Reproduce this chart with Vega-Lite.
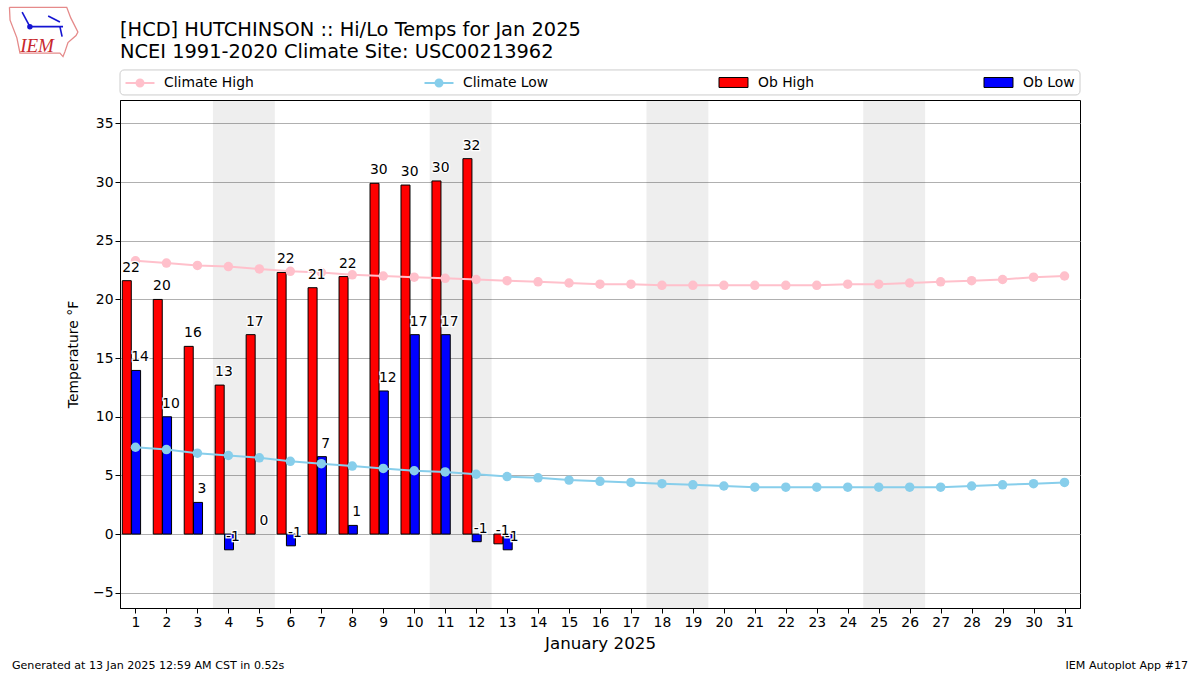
{"$schema":"https://vega.github.io/schema/vega-lite/v6.json","width":960,"height":508,"autosize":{"type":"none"},"padding":{"left":120,"top":100,"right":120,"bottom":67},"background":"white",
"title":{"text":["[HCD] HUTCHINSON :: Hi/Lo Temps for Jan 2025","NCEI 1991-2020 Climate Site: USC00213962"],"anchor":"start","frame":"group","font":"DejaVu Sans","fontSize":19.4,"fontWeight":"normal","color":"black","lineHeight":22,"offset":0,"dy":58},
"config":{"view":{"stroke":"black","strokeWidth":1},"font":"DejaVu Sans"},
"datasets":{
"weekends":[{"start":3.5,"end":5.5},{"start":10.5,"end":12.5},{"start":17.5,"end":19.5},{"start":24.5,"end":26.5}],
"legendbox":[{"x1":0.5,"x2":31.5,"y1":37.43,"y2":39.56}],
"obs":[
{"day":1,"series":"Ob High","value":21.6,"label":"22"},{"day":2,"series":"Ob High","value":20,"label":"20"},{"day":3,"series":"Ob High","value":16,"label":"16"},{"day":4,"series":"Ob High","value":12.7,"label":"13"},{"day":5,"series":"Ob High","value":17,"label":"17"},{"day":6,"series":"Ob High","value":22.3,"label":"22"},{"day":7,"series":"Ob High","value":21,"label":"21"},{"day":8,"series":"Ob High","value":21.95,"label":"22"},{"day":9,"series":"Ob High","value":29.9,"label":"30"},{"day":10,"series":"Ob High","value":29.75,"label":"30"},{"day":11,"series":"Ob High","value":30.1,"label":"30"},{"day":12,"series":"Ob High","value":32,"label":"32"},{"day":13,"series":"Ob High","value":-0.83,"label":"-1"},
{"day":1,"series":"Ob Low","value":13.95,"label":"14"},{"day":2,"series":"Ob Low","value":10,"label":"10"},{"day":3,"series":"Ob Low","value":2.7,"label":"3"},{"day":4,"series":"Ob Low","value":-1.34,"label":"-1"},{"day":5,"series":"Ob Low","value":0,"label":"0"},{"day":6,"series":"Ob Low","value":-1,"label":"-1"},{"day":7,"series":"Ob Low","value":6.6,"label":"7"},{"day":8,"series":"Ob Low","value":0.74,"label":"1"},{"day":9,"series":"Ob Low","value":12.2,"label":"12"},{"day":10,"series":"Ob Low","value":17,"label":"17"},{"day":11,"series":"Ob Low","value":17,"label":"17"},{"day":12,"series":"Ob Low","value":-0.65,"label":"-1"},{"day":13,"series":"Ob Low","value":-1.34,"label":"-1"}],
"climate":[
{"day":1,"series":"Climate High","value":23.3},{"day":2,"series":"Climate High","value":23.1},{"day":3,"series":"Climate High","value":22.9},{"day":4,"series":"Climate High","value":22.8},{"day":5,"series":"Climate High","value":22.6},{"day":6,"series":"Climate High","value":22.4},{"day":7,"series":"Climate High","value":22.3},{"day":8,"series":"Climate High","value":22.1},{"day":9,"series":"Climate High","value":22},{"day":10,"series":"Climate High","value":21.9},{"day":11,"series":"Climate High","value":21.8},{"day":12,"series":"Climate High","value":21.7},{"day":13,"series":"Climate High","value":21.6},{"day":14,"series":"Climate High","value":21.5},{"day":15,"series":"Climate High","value":21.4},{"day":16,"series":"Climate High","value":21.3},{"day":17,"series":"Climate High","value":21.3},{"day":18,"series":"Climate High","value":21.2},{"day":19,"series":"Climate High","value":21.2},{"day":20,"series":"Climate High","value":21.2},{"day":21,"series":"Climate High","value":21.2},{"day":22,"series":"Climate High","value":21.2},{"day":23,"series":"Climate High","value":21.2},{"day":24,"series":"Climate High","value":21.3},{"day":25,"series":"Climate High","value":21.3},{"day":26,"series":"Climate High","value":21.4},{"day":27,"series":"Climate High","value":21.5},{"day":28,"series":"Climate High","value":21.6},{"day":29,"series":"Climate High","value":21.7},{"day":30,"series":"Climate High","value":21.9},{"day":31,"series":"Climate High","value":22},
{"day":1,"series":"Climate Low","value":7.4},{"day":2,"series":"Climate Low","value":7.2},{"day":3,"series":"Climate Low","value":6.9},{"day":4,"series":"Climate Low","value":6.7},{"day":5,"series":"Climate Low","value":6.5},{"day":6,"series":"Climate Low","value":6.2},{"day":7,"series":"Climate Low","value":6},{"day":8,"series":"Climate Low","value":5.8},{"day":9,"series":"Climate Low","value":5.6},{"day":10,"series":"Climate Low","value":5.4},{"day":11,"series":"Climate Low","value":5.3},{"day":12,"series":"Climate Low","value":5.1},{"day":13,"series":"Climate Low","value":4.9},{"day":14,"series":"Climate Low","value":4.8},{"day":15,"series":"Climate Low","value":4.6},{"day":16,"series":"Climate Low","value":4.5},{"day":17,"series":"Climate Low","value":4.4},{"day":18,"series":"Climate Low","value":4.3},{"day":19,"series":"Climate Low","value":4.2},{"day":20,"series":"Climate Low","value":4.1},{"day":21,"series":"Climate Low","value":4},{"day":22,"series":"Climate Low","value":4},{"day":23,"series":"Climate Low","value":4},{"day":24,"series":"Climate Low","value":4},{"day":25,"series":"Climate Low","value":4},{"day":26,"series":"Climate Low","value":4},{"day":27,"series":"Climate Low","value":4},{"day":28,"series":"Climate Low","value":4.1},{"day":29,"series":"Climate Low","value":4.2},{"day":30,"series":"Climate Low","value":4.3},{"day":31,"series":"Climate Low","value":4.4}],
"logo":[
{"part":"outline","order":1,"x":-3.07,"y":44.9},{"part":"outline","order":2,"x":-1.22,"y":44.9},{"part":"outline","order":3,"x":-1.09,"y":44},{"part":"outline","order":4,"x":-0.86,"y":42.8},{"part":"outline","order":5,"x":-0.92,"y":42.5},{"part":"outline","order":6,"x":-1.18,"y":41.9},{"part":"outline","order":7,"x":-1.28,"y":41.1},{"part":"outline","order":8,"x":-1.34,"y":40.7},{"part":"outline","order":9,"x":-1.44,"y":41},{"part":"outline","order":10,"x":-2.73,"y":41},{"part":"outline","order":11,"x":-2.83,"y":42.3},{"part":"outline","order":12,"x":-3.05,"y":43.8},{"part":"outline","order":13,"x":-3.07,"y":44.9}],
"glyph":[
{"part":"main","order":1,"x":-2.41,"y":43.25},{"part":"main","order":2,"x":-1.34,"y":43.25},{"part":"barb","order":1,"x":-2.41,"y":43.25},{"part":"barb","order":2,"x":-2.66,"y":44.5},{"part":"flag","order":1,"x":-1.82,"y":44.16},{"part":"flag","order":2,"x":-1.44,"y":43.65},{"part":"stem","order":1,"x":-1.44,"y":43.25},{"part":"stem","order":2,"x":-1.37,"y":42.4}],
"dot":[{"x":-2.41,"y":43.25}],
"logotext":[{"x":-2.18,"y":41.6,"text":"IEM"}],
"notes":[{"x":-2.99,"y":-11.25,"text":"Generated at 13 Jan 2025 12:59 AM CST in 0.52s","side":"left"},{"x":34.99,"y":-11.25,"text":"IEM Autoplot App #17","side":"right"}]
},
"layer":[
{"data":{"name":"weekends"},"mark":{"type":"rect","fill":"black","opacity":0.067},
"encoding":{"x":{"field":"start","type":"quantitative","scale":{"domain":[0.5,31.5],"nice":false,"zero":false,"padding":0},
"axis":{"values":[1,2,3,4,5,6,7,8,9,10,11,12,13,14,15,16,17,18,19,20,21,22,23,24,25,26,27,28,29,30,31],"tickCount":31,"format":"d","grid":false,"labelFontSize":13.9,"labelFont":"DejaVu Sans","labelColor":"black","labelOverlap":false,"labelFlush":false,"tickColor":"black","tickSize":5,"domainColor":"black","title":"January 2025","titleFontSize":16.7,"titleFontWeight":"normal","titleFont":"DejaVu Sans","titleColor":"black","titlePadding":7}},"x2":{"field":"end"},
"y":{"datum":-6.3,"type":"quantitative","scale":{"domain":[-6.3,37],"nice":false,"zero":false},"axis":{"values":[-5,0,5,10,15,20,25,30,35],"grid":true,"gridColor":"#b0b0b0","gridWidth":1,"labelFontSize":13.9,"labelFont":"DejaVu Sans","labelColor":"black","tickColor":"black","tickSize":5,"domainColor":"black","title":"Temperature °F","titleFontSize":13.9,"titleFontWeight":"normal","titleFont":"DejaVu Sans","titleColor":"black","titlePadding":12}},"y2":{"datum":37}}},
{"data":{"name":"legendbox"},"mark":{"type":"rect","fill":"transparent","stroke":"#cccccc","strokeWidth":1,"cornerRadius":4,"clip":false},
"encoding":{"x":{"field":"x1","type":"quantitative"},"x2":{"field":"x2"},"y":{"field":"y1","type":"quantitative"},"y2":{"field":"y2"}}},
{"data":{"name":"obs"},"transform":[{"filter":"datum.series === 'Ob High'"}],"mark":{"type":"bar","width":9,"xOffset":-8.7,"stroke":"black","strokeWidth":1},
"encoding":{"x":{"field":"day","type":"quantitative"},"y":{"field":"value","type":"quantitative","stack":null},
"color":{"field":"series","type":"nominal","scale":{"domain":["Ob High","Ob Low"],"range":["#ff0000","#0000ff"]},
"legend":{"orient":"none","legendX":599,"legendY":-25,"title":null,"columns":2,"gridAlign":"none","columnPadding":167,"padding":0,"symbolSize":196,"symbolStrokeWidth":1,"symbolStrokeColor":"black","symbolType":"M-1.07,-0.71H3.07V0.71H-1.07Z","labelOffset":24,"labelFontSize":13.9,"labelFont":"DejaVu Sans","labelColor":"black","labelLimit":300,
"encoding":{"symbols":{"stroke":{"value":"black"},"strokeWidth":{"value":1},"opacity":{"value":1}}}}}}},
{"data":{"name":"obs"},"transform":[{"filter":"datum.series === 'Ob Low' && datum.value !== 0"}],"mark":{"type":"bar","width":9,"xOffset":0.6,"stroke":"black","strokeWidth":1},
"encoding":{"x":{"field":"day","type":"quantitative"},"y":{"field":"value","type":"quantitative","stack":null},"color":{"field":"series","type":"nominal","legend":null}}},
{"data":{"name":"climate"},"mark":{"type":"line","strokeWidth":2},
"encoding":{"x":{"field":"day","type":"quantitative"},"y":{"field":"value","type":"quantitative"},
"stroke":{"field":"series","type":"nominal","scale":{"domain":["Climate High","Climate Low"],"range":["#ffc0cb","#87ceeb"]},
"legend":{"orient":"none","legendX":5,"legendY":-25,"title":null,"columns":2,"gridAlign":"none","columnPadding":166,"padding":0,"symbolSize":196,"symbolStrokeWidth":2,"symbolType":"M-1.07,0H3.07M0.5,0a0.5,0.5 0 1,0 1,0a0.5,0.5 0 1,0 -1,0M0.786,0a0.214,0.214 0 1,0 0.428,0a0.214,0.214 0 1,0 -0.428,0M0.93,0a0.07,0.07 0 1,0 0.14,0a0.07,0.07 0 1,0 -0.14,0","labelOffset":23,"labelFontSize":13.9,"labelFont":"DejaVu Sans","labelColor":"black","labelLimit":300}}}},
{"data":{"name":"climate"},"mark":{"type":"point","filled":true,"size":90,"opacity":1},
"encoding":{"x":{"field":"day","type":"quantitative"},"y":{"field":"value","type":"quantitative"},
"fill":{"field":"series","type":"nominal","scale":{"domain":["Climate High","Climate Low"],"range":["#ffc0cb","#87ceeb"]},"legend":null}}},
{"data":{"name":"obs"},"transform":[{"filter":"datum.series === 'Ob High'"}],"mark":{"type":"text","dx":-4.5,"dy":-13,"fontSize":13.9,"font":"DejaVu Sans","stroke":"white","strokeWidth":2.5,"fill":"white"},
"encoding":{"x":{"field":"day","type":"quantitative"},"y":{"field":"value","type":"quantitative"},"text":{"field":"label"}}},
{"data":{"name":"obs"},"transform":[{"filter":"datum.series === 'Ob Low'"}],"mark":{"type":"text","dx":4.5,"dy":-13,"fontSize":13.9,"font":"DejaVu Sans","stroke":"white","strokeWidth":2.5,"fill":"white"},
"encoding":{"x":{"field":"day","type":"quantitative"},"y":{"field":"value","type":"quantitative"},"text":{"field":"label"}}},
{"data":{"name":"obs"},"transform":[{"filter":"datum.series === 'Ob High'"}],"mark":{"type":"text","dx":-4.5,"dy":-13,"fontSize":13.9,"font":"DejaVu Sans","fill":"black"},
"encoding":{"x":{"field":"day","type":"quantitative"},"y":{"field":"value","type":"quantitative"},"text":{"field":"label"}}},
{"data":{"name":"obs"},"transform":[{"filter":"datum.series === 'Ob Low'"}],"mark":{"type":"text","dx":4.5,"dy":-13,"fontSize":13.9,"font":"DejaVu Sans","fill":"black"},
"encoding":{"x":{"field":"day","type":"quantitative"},"y":{"field":"value","type":"quantitative"},"text":{"field":"label"}}},
{"data":{"name":"logo"},"mark":{"type":"line","stroke":"#e58a8a","strokeWidth":1.3,"clip":false},
"encoding":{"x":{"field":"x","type":"quantitative"},"y":{"field":"y","type":"quantitative"},"detail":{"field":"part"},"order":{"field":"order"}}},
{"data":{"name":"glyph"},"mark":{"type":"line","stroke":"#1414d2","strokeWidth":1.6,"clip":false},
"encoding":{"x":{"field":"x","type":"quantitative"},"y":{"field":"y","type":"quantitative"},"detail":{"field":"part"},"order":{"field":"order"}}},
{"data":{"name":"dot"},"mark":{"type":"point","filled":true,"fill":"#1414d2","size":30,"opacity":1,"clip":false},
"encoding":{"x":{"field":"x","type":"quantitative"},"y":{"field":"y","type":"quantitative"}}},
{"data":{"name":"logotext"},"mark":{"type":"text","font":"Liberation Serif","fontStyle":"italic","fontSize":19,"fill":"#c8282d","clip":false},
"encoding":{"x":{"field":"x","type":"quantitative"},"y":{"field":"y","type":"quantitative"},"text":{"field":"text"}}},
{"data":{"name":"notes"},"transform":[{"filter":"datum.side === 'left'"}],"mark":{"type":"text","align":"left","font":"DejaVu Sans","fontSize":11.1,"fill":"black","clip":false},
"encoding":{"x":{"field":"x","type":"quantitative"},"y":{"field":"y","type":"quantitative"},"text":{"field":"text"}}},
{"data":{"name":"notes"},"transform":[{"filter":"datum.side === 'right'"}],"mark":{"type":"text","align":"right","font":"DejaVu Sans","fontSize":11.1,"fill":"black","clip":false},
"encoding":{"x":{"field":"x","type":"quantitative"},"y":{"field":"y","type":"quantitative"},"text":{"field":"text"}}}
]}
